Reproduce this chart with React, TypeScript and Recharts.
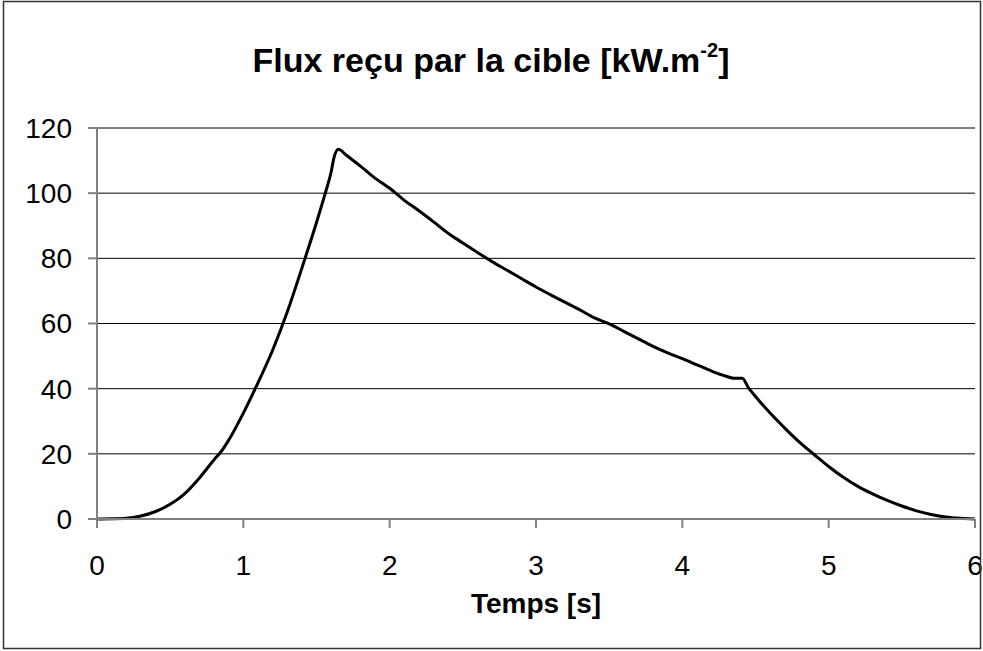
import { LineChart, Line, XAxis, YAxis, CartesianGrid } from "recharts";

const TIME = [
  0, 0.1, 0.2, 0.3, 0.4, 0.5, 0.6, 0.7, 0.8, 0.85, 0.9, 1.0, 1.1, 1.2, 1.3, 1.4, 1.5, 1.56, 1.6, 1.62, 1.65,
  1.7, 1.8, 1.9, 2.0, 2.1, 2.2, 2.3, 2.4, 2.5, 2.6, 2.7, 2.8, 2.9, 3.0, 3.1, 3.2, 3.3, 3.4, 3.5, 3.6, 3.7,
  3.8, 3.9, 4.0, 4.1, 4.2, 4.3, 4.35, 4.41, 4.45, 4.5, 4.6, 4.7, 4.8, 4.9, 5.0, 5.1, 5.2, 5.3, 5.4, 5.5,
  5.6, 5.7, 5.8, 5.9, 6.0,
];

const FLUX = [
  0, 0.05, 0.2, 0.9, 2.3, 4.5, 7.8, 12.6, 18.2, 20.8, 24.2, 32.5, 41.8, 51.8, 63.5, 77.0, 91.0, 100, 106.5, 111, 113.5,
  111.8, 108.3, 104.6, 101.5, 97.8, 94.6, 91.2, 87.7, 84.7, 81.8, 79.0, 76.4, 73.8, 71.2, 68.8, 66.5, 64.2, 61.7, 59.9, 57.6, 55.3,
  53.0, 51.0, 49.2, 47.3, 45.4, 43.8, 43.2, 43.2, 40.4, 37.6, 32.5, 27.9, 23.6, 19.8, 16.1, 12.8, 10.0, 7.7, 5.7, 4.0,
  2.5, 1.4, 0.6, 0.2, 0,
];

const X_TICKS = [0, 1, 2, 3, 4, 5, 6];
const Y_TICKS = [0, 20, 40, 60, 80, 100, 120];

const data = TIME.map((t, i) => ({ t, flux: FLUX[i] }));

const FONT = "'Liberation Sans', Arial, sans-serif";
const axisGray = "#808080";

export default function App() {
  return (
    <div style={{ position: "absolute", left: 0, top: 0, width: 983, height: 651, background: "#fff", fontFamily: FONT }}>
      <LineChart width={983} height={651} data={data} margin={{ top: 128, right: 8, left: 0, bottom: 0 }}>
        <CartesianGrid vertical={false} stroke="#000" strokeWidth={1} />
        <XAxis
          dataKey="t"
          type="number"
          domain={[0, 6]}
          ticks={X_TICKS}
          height={132}
          tickSize={9}
          tickMargin={27}
          stroke={axisGray}
          axisLine={{ stroke: axisGray, strokeWidth: 2 }}
          tickLine={{ stroke: axisGray, strokeWidth: 2 }}
          tick={{ fill: "#000", fontSize: 28, fontFamily: FONT }}
          allowDataOverflow
        />
        <YAxis
          type="number"
          domain={[0, 120]}
          ticks={Y_TICKS}
          width={97}
          tickSize={9}
          tickMargin={16}
          stroke={axisGray}
          axisLine={{ stroke: axisGray, strokeWidth: 2 }}
          tickLine={{ stroke: axisGray, strokeWidth: 2 }}
          tick={{ fill: "#000", fontSize: 28, fontFamily: FONT }}
        />
        <Line
          type="monotone"
          dataKey="flux"
          stroke="#000"
          strokeWidth={3}
          dot={false}
          isAnimationActive={false}
        />
      </LineChart>
      <svg width={983} height={651} style={{ position: "absolute", left: 0, top: 0, pointerEvents: "none" }}>
        <rect x={3.5} y={1.5} width={977} height={647} fill="none" stroke="#333" strokeWidth={1.5} />
        <text x={491} y={72} textAnchor="middle" fontFamily={FONT} fontWeight="bold" fontSize={34} fill="#000">
          Flux reçu par la cible [kW.m
          <tspan fontSize={20} dy={-15}>-2</tspan>
          <tspan dy={15}>]</tspan>
        </text>
        <text x={536} y={613} textAnchor="middle" fontFamily={FONT} fontWeight="bold" fontSize={28} fill="#000">
          Temps [s]
        </text>
      </svg>
    </div>
  );
}
